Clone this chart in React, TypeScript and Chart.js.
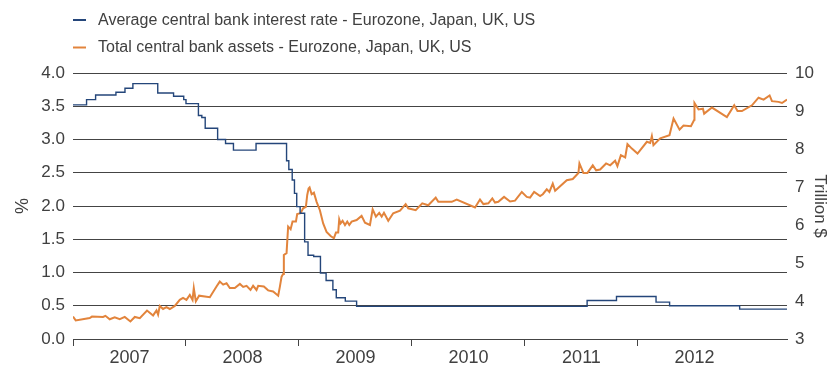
import { useEffect, useRef } from 'react';
import { Chart, registerables } from 'chart.js';

Chart.register(...registerables);

// Average central bank interest rate (%), step changes: decimal year -> value
const rateDates = [
  2007.0, 2007.12, 2007.2, 2007.38, 2007.46, 2007.53, 2007.75, 2007.89, 2007.98,
  2008.0, 2008.11, 2008.14, 2008.17, 2008.28, 2008.35, 2008.42, 2008.62, 2008.89,
  2008.91, 2008.94, 2008.96, 2008.98, 2009.01, 2009.05, 2009.08, 2009.13, 2009.19,
  2009.24, 2009.3, 2009.33, 2009.41, 2009.51, 2011.55, 2011.81, 2012.16, 2012.28,
  2012.9, 2013.32,
];
const rateValues = [
  3.52, 3.6, 3.67, 3.71, 3.77, 3.84, 3.7, 3.65, 3.6,
  3.54, 3.36, 3.33, 3.17, 3.0, 2.94, 2.84, 2.94, 2.68,
  2.55, 2.39, 2.19, 1.99, 1.89, 1.46, 1.26, 1.24, 0.99,
  0.88, 0.74, 0.62, 0.57, 0.49, 0.58, 0.64, 0.555, 0.5,
  0.45, 0.45,
];

// Total central bank assets (trillion $): decimal year -> value
const assetDates = [
  2007.0, 2007.024, 2007.148, 2007.168, 2007.266, 2007.287, 2007.325, 2007.369, 2007.414, 2007.458,
  2007.508, 2007.547, 2007.591, 2007.655, 2007.709, 2007.739, 2007.753, 2007.768, 2007.797, 2007.827,
  2007.857, 2007.901, 2007.945, 2007.974, 2008.004, 2008.034, 2008.058, 2008.069, 2008.087, 2008.116,
  2008.211, 2008.27, 2008.299, 2008.329, 2008.359, 2008.388, 2008.432, 2008.477, 2008.506, 2008.536,
  2008.571, 2008.594, 2008.624, 2008.639, 2008.689, 2008.727, 2008.771, 2008.816, 2008.831, 2008.846,
  2008.86, 2008.866, 2008.89, 2008.904, 2008.926, 2008.943, 2008.973, 2008.984, 2009.014, 2009.037,
  2009.061, 2009.073, 2009.085, 2009.094, 2009.112, 2009.132, 2009.156, 2009.185, 2009.214, 2009.244,
  2009.28, 2009.309, 2009.327, 2009.347, 2009.356, 2009.368, 2009.386, 2009.407, 2009.427, 2009.445,
  2009.466, 2009.51, 2009.554, 2009.584, 2009.628, 2009.652, 2009.681, 2009.71, 2009.732, 2009.752,
  2009.79, 2009.834, 2009.894, 2009.944, 2009.967, 2010.033, 2010.091, 2010.144, 2010.21, 2010.233,
  2010.352, 2010.396, 2010.558, 2010.602, 2010.632, 2010.676, 2010.711, 2010.735, 2010.764, 2010.815,
  2010.868, 2010.912, 2010.972, 2011.016, 2011.045, 2011.081, 2011.134, 2011.158, 2011.193, 2011.216,
  2011.246, 2011.267, 2011.37, 2011.423, 2011.473, 2011.482, 2011.517, 2011.553, 2011.6, 2011.63,
  2011.665, 2011.718, 2011.754, 2011.798, 2011.818, 2011.849, 2011.887, 2011.907, 2011.946, 2011.996,
  2012.079, 2012.108, 2012.123, 2012.137, 2012.197, 2012.279, 2012.315, 2012.368, 2012.403, 2012.469,
  2012.498, 2012.5, 2012.536, 2012.575, 2012.586, 2012.655, 2012.787, 2012.852, 2012.881, 2012.92,
  2013.009, 2013.067, 2013.112, 2013.165, 2013.186, 2013.244, 2013.275, 2013.319,
];
const assetValues = [
  3.59, 3.49, 3.55, 3.59, 3.58, 3.61, 3.52, 3.57, 3.52, 3.58,
  3.46, 3.58, 3.55, 3.75, 3.62, 3.75, 3.64, 3.87, 3.79, 3.84,
  3.79, 3.87, 4.03, 4.08, 4.03, 4.16, 4.03, 4.34, 3.99, 4.14,
  4.1, 4.38, 4.51, 4.43, 4.47, 4.34, 4.34, 4.45, 4.37, 4.4,
  4.29, 4.4, 4.29, 4.4, 4.38, 4.28, 4.25, 4.14, 4.38, 4.64,
  4.71, 5.21, 5.26, 5.96, 5.89, 6.09, 6.09, 6.29, 6.31, 6.44,
  6.48, 6.79, 6.96, 6.99, 6.81, 6.85, 6.61, 6.39, 6.04, 5.82,
  5.71, 5.65, 5.8, 5.8, 6.15, 6.04, 6.11, 6.0, 6.09, 6.0,
  6.09, 6.13, 6.24, 6.06, 6.0, 6.41, 6.22, 6.32, 6.22, 6.32,
  6.11, 6.31, 6.38, 6.55, 6.44, 6.39, 6.57, 6.52, 6.72, 6.61,
  6.61, 6.67, 6.46, 6.67, 6.55, 6.57, 6.7, 6.59, 6.61, 6.74,
  6.62, 6.64, 6.87, 6.74, 6.72, 6.87, 6.76, 6.81, 6.94, 6.87,
  7.09, 6.9, 7.18, 7.21, 7.37, 7.62, 7.37, 7.37, 7.57, 7.44,
  7.46, 7.62, 7.57, 7.69, 7.55, 7.84, 7.78, 8.13, 8.01, 7.88,
  8.19, 8.16, 8.34, 8.1, 8.28, 8.36, 8.8, 8.51, 8.62, 8.6,
  8.77, 9.21, 9.04, 9.06, 8.93, 9.09, 8.84, 9.15, 9.0, 9.0,
  9.15, 9.35, 9.3, 9.41, 9.26, 9.24, 9.21, 9.3,
];

const yearLabels = [2007, 2008, 2009, 2010, 2011, 2012];
const xMin = 2007;
const xMax = 2013.319;

const seriesLabels = [
  'Average central bank interest rate - Eurozone, Japan, UK, US',
  'Total central bank assets - Eurozone, Japan, UK, US',
];

const FONT = '"Liberation Sans", Arial, sans-serif';
const TEXT = '#404040';
const GRID = '#444444';
const BLUE = '#24467a';
const ORANGE = '#e2843c';

const stackedLegend = {
  id: 'stackedLegend',
  afterDraw(chart: any) {
    const { ctx, chartArea } = chart;
    ctx.save();
    chart.data.datasets.forEach((ds: any, i: number) => {
      const y = 20 + i * 27.5;
      const x0 = chartArea.left;
      ctx.strokeStyle = ds.borderColor;
      ctx.lineWidth = 2;
      ctx.beginPath();
      ctx.moveTo(x0, y);
      ctx.lineTo(x0 + 13, y);
      ctx.stroke();
      ctx.fillStyle = TEXT;
      ctx.font = `16px ${FONT}`;
      ctx.textBaseline = 'middle';
      ctx.textAlign = 'left';
      ctx.fillText(ds.label, x0 + 25, y + 0.5);
    });
    ctx.restore();
  },
};

export default function App() {
  const ref = useRef<HTMLCanvasElement | null>(null);

  useEffect(() => {
    if (!ref.current) return;
    const chart = new Chart(ref.current, {
      type: 'line',
      data: {
        datasets: [
          {
            label: seriesLabels[0],
            data: rateDates.map((d, i) => ({ x: d, y: rateValues[i] })),
            borderColor: BLUE,
            borderWidth: 1.4,
            pointRadius: 0,
            stepped: true,
            yAxisID: 'y',
          },
          {
            label: seriesLabels[1],
            data: assetDates.map((d, i) => ({ x: d, y: assetValues[i] })),
            borderColor: ORANGE,
            borderWidth: 2,
            pointRadius: 0,
            tension: 0,
            yAxisID: 'y1',
          },
        ],
      },
      options: {
        animation: false,
        responsive: true,
        maintainAspectRatio: false,
        layout: { padding: { top: 73, left: 0, right: 0, bottom: 0 } },
        plugins: {
          legend: { display: false },
          tooltip: { enabled: false },
        },
        scales: {
          x: {
            type: 'linear',
            min: xMin,
            max: xMax,
            afterBuildTicks: (s: any) => {
              const t: any[] = [];
              yearLabels.forEach((yr) => {
                t.push({ value: yr });
                t.push({ value: yr + 0.5 });
              });
              s.ticks = t;
            },
            afterFit: (s: any) => {
              s.height = 28;
            },
            grid: {
              drawOnChartArea: false,
              drawTicks: true,
              tickLength: 7,
              color: (c: any) => (c.tick && c.tick.value % 1 === 0 ? GRID : 'rgba(0,0,0,0)'),
            },
            border: { display: true, color: GRID, width: 1 },
            ticks: {
              autoSkip: false,
              maxRotation: 0,
              padding: 1,
              color: TEXT,
              font: { family: FONT, size: 18 },
              callback: (v: any) => (Number(v) % 1 === 0 ? '' : String(Math.floor(Number(v)))),
            },
          },
          y: {
            type: 'linear',
            position: 'left',
            min: 0,
            max: 4,
            afterFit: (s: any) => {
              s.width = 73;
            },
            grid: { color: GRID, drawTicks: false, lineWidth: 1 },
            border: { display: false },
            ticks: {
              stepSize: 0.5,
              padding: 8,
              color: TEXT,
              font: { family: FONT, size: 17 },
              callback: (v: any) => Number(v).toFixed(1),
            },
            title: {
              display: true,
              text: '%',
              color: TEXT,
              font: { family: FONT, size: 18 },
              padding: { top: 12, bottom: 0 },
            },
          },
          y1: {
            type: 'linear',
            position: 'right',
            min: 3,
            max: 10,
            afterFit: (s: any) => {
              s.width = 46;
            },
            grid: { display: false, drawTicks: false },
            border: { display: false },
            ticks: {
              stepSize: 1,
              padding: 8,
              color: TEXT,
              font: { family: FONT, size: 17 },
            },
            title: {
              display: true,
              text: 'Trillion $',
              color: TEXT,
              font: { family: FONT, size: 17 },
              padding: { top: 3, bottom: 0 },
            },
          },
        },
      },
      plugins: [stackedLegend],
    } as any);
    return () => chart.destroy();
  }, []);

  return (
    <div style={{ position: 'fixed', left: 0, top: 0, width: 833, height: 367 }}>
      <canvas ref={ref} />
    </div>
  );
}
